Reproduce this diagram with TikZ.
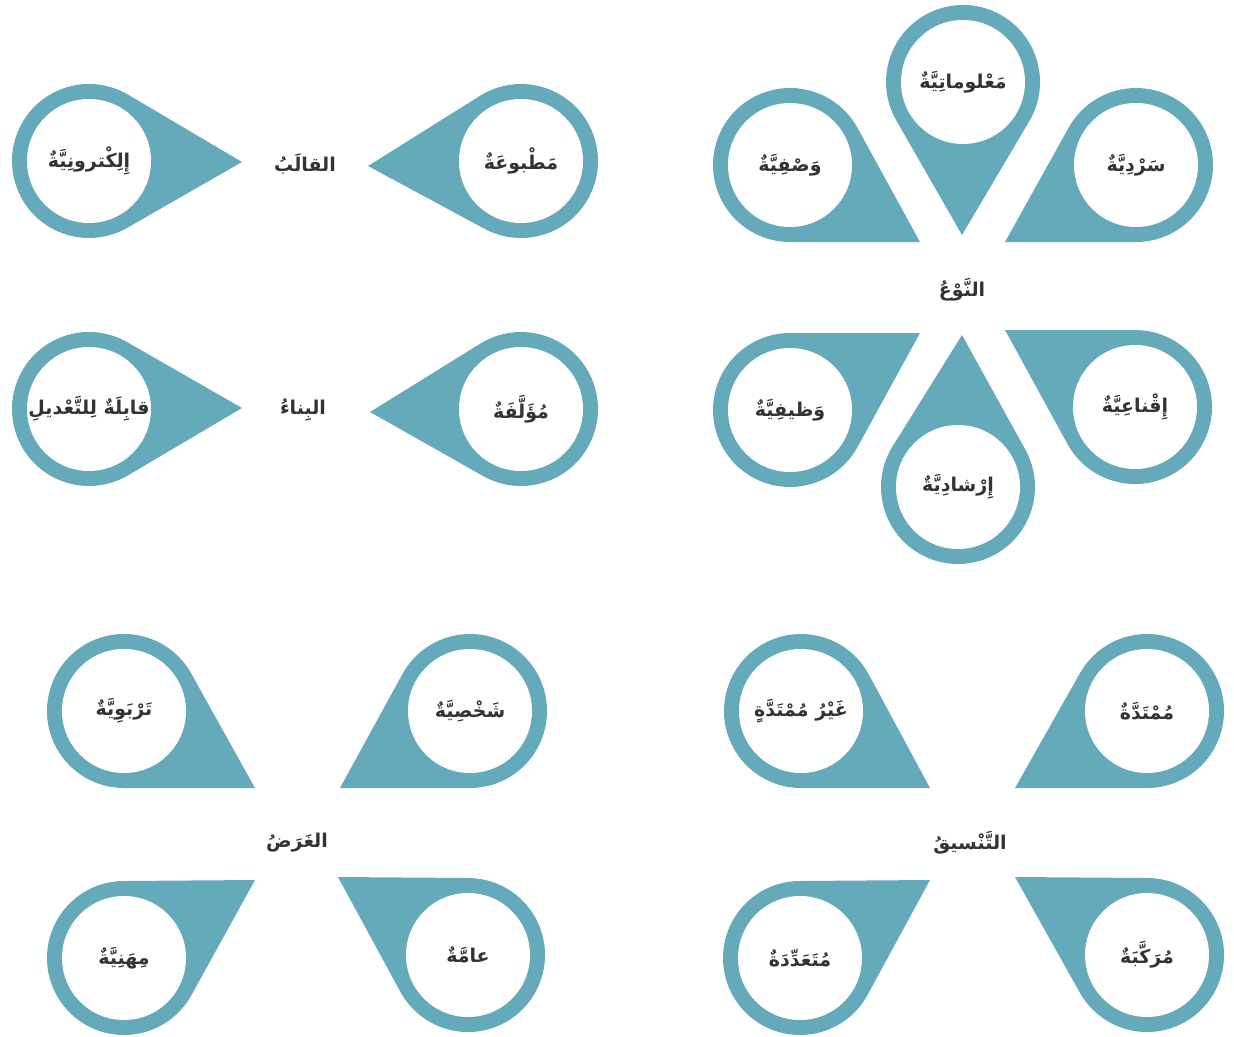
\documentclass[tikz,border=0pt]{standalone}
\usepackage{fontspec}
\newfontfamily\arabicfont[Script=Arabic]{DejaVu Sans}
\TeXXeTstate=1
\usetikzlibrary{calc}

\definecolor{pinteal}{RGB}{101,170,186}

\tikzset{
  pinfill/.style={fill=pinteal},
  lbl/.style={font=\arabicfont\bfseries\fontsize{19}{22}\selectfont,text=black!80,inner sep=0pt}
}

% drop shaped marker: outer circle at #1, point at #2
\newcommand{\pin}[2]{%
  \fill[pinfill] let \p1=($(#2)-(#1)$), \n1={atan2(\y1,\x1)}, \n2={acos(77/veclen(\x1,\y1))} in
    (#2) -- ($(#1)+(\n1+\n2:77pt)$) arc[start angle=\n1+\n2, end angle=\n1-\n2+360, radius=77pt] -- cycle;
  \fill[white] (#1) circle[radius=62pt];
}

\begin{document}
\begin{tikzpicture}[x=1pt,y=-1pt]
\useasboundingbox (0,0) rectangle (1234,1036);

\foreach \nm/\cx/\cy/\tx/\ty/\txt in {
    elec/89/161/242/162/{إِلِكْترونِيَّةٌ},
    print/521/161/368/166/{مَطْبوعَةٌ},
    edit/89/409/242/408/{قابِلَةٌ لِلتَّعْديلِ},
    auth/521/409/370/412/{مُؤَلَّفَةٌ},
    info/963/82/962/235/{مَعْلوماتِيَّةٌ},
    desc/790/165/920/242/{وَصْفِيَّةٌ},
    narr/1136/165/1005/242/{سَرْدِيَّةٌ},
    func/790/410/920/333/{وَظيفِيَّةٌ},
    pers/1135/407/1005/330/{إِقْناعِيَّةٌ},
    guide/958/487/962/335/{إِرْشادِيَّةٌ},
    educ/124/711/255/788/{تَرْبَوِيَّةٌ},
    self/470/711/340/788/{شَخْصِيَّةٌ},
    prof/124/958/255/880/{مِهَنِيَّةٌ},
    publ/468/955/338/877/{عامَّةٌ},
    nonext/801/711/930/788/{غَيْرُ مُمْتَدَّةٍ},
    ext/1147/711/1015/788/{مُمْتَدَّةٌ},
    multi/800/958/930/880/{مُتَعَدِّدَةٌ},
    comp/1147/955/1015/877/{مُرَكَّبَةٌ}}
{
  \coordinate (\nm) at (\cx,\cy);
  \coordinate (\nm-tip) at (\tx,\ty);
  \pin{\nm}{\nm-tip}
  \node[lbl] (\nm-txt) at (\nm) {\beginR\txt\endR};
}

% group titles
\node[lbl] (form) at (305,164) {\beginR القالَبُ\endR};
\node[lbl] (build) at (303,410) {\beginR البِناءُ\endR};
\node[lbl] (kind) at (962,290) {\beginR النَّوْعُ\endR};
\node[lbl] (aim) at (297,843) {\beginR الغَرَضُ\endR};
\node[lbl] (layout) at (970,843) {\beginR التَّنْسيقُ\endR};
\end{tikzpicture}
\end{document}
